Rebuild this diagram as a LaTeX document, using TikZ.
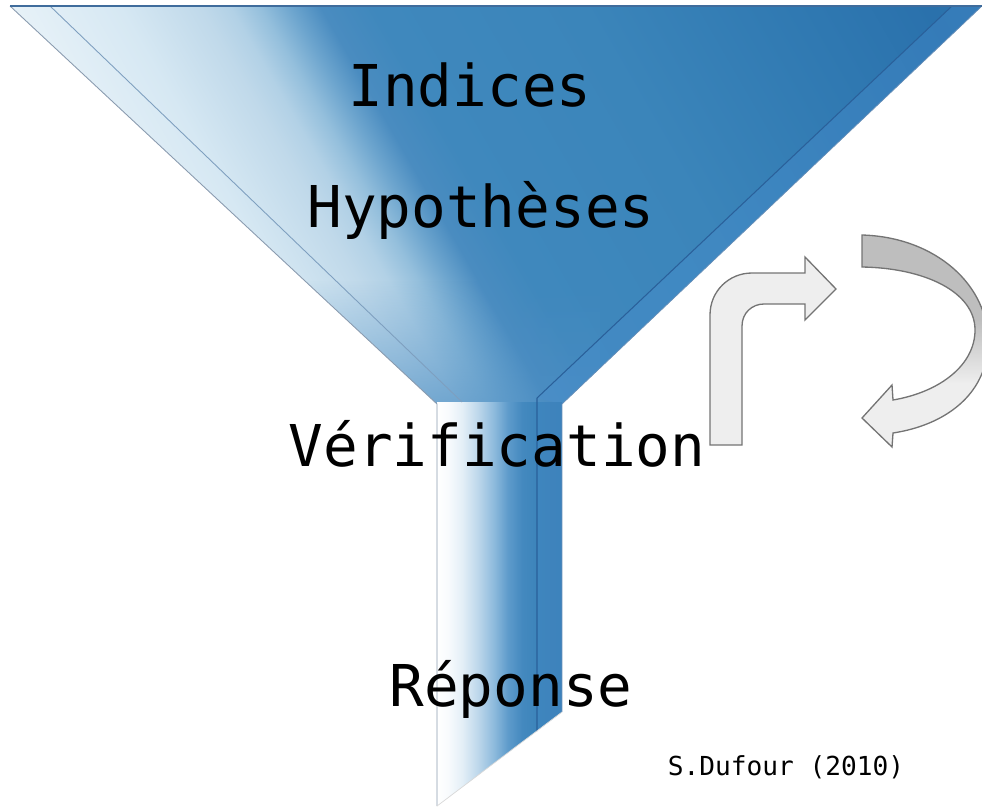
\documentclass[tikz,border=0pt]{standalone}
\usepackage{fontspec}
\setmonofont{DejaVu Sans Mono}
\usetikzlibrary{fadings}

% funnel colours
\definecolor{glowA}{HTML}{E8F2F8}
\definecolor{glowB}{HTML}{D6E8F3}
\definecolor{glowC}{HTML}{C0D9EA}
\definecolor{glowD}{HTML}{B2D1E6}
\definecolor{glowE}{HTML}{94BFDC}
\definecolor{glowF}{HTML}{6DA5CE}
\definecolor{glowG}{HTML}{4A8CC0}
\definecolor{glowH}{HTML}{3F88BD}
\definecolor{glowI}{HTML}{3B85BA}
\definecolor{glowJ}{HTML}{2F78B1}
\definecolor{glowK}{HTML}{2A71AC}
\definecolor{glowL}{HTML}{2D74AE}
\definecolor{spoutA}{HTML}{FFFFFF}
\definecolor{spoutB}{HTML}{F8FBFD}
\definecolor{spoutC}{HTML}{E4EFF7}
\definecolor{spoutD}{HTML}{BDD7EB}
\definecolor{spoutE}{HTML}{8DBADC}
\definecolor{spoutF}{HTML}{5E9BCB}
\definecolor{spoutG}{HTML}{4489BF}
\definecolor{spoutH}{HTML}{3C84BA}
\definecolor{spoutI}{HTML}{3A7FB7}
\definecolor{rimlight}{HTML}{4A8FD0}
\definecolor{rimdark}{HTML}{2A609A}
\definecolor{rimgray}{HTML}{7E9FBF}
\definecolor{edgegray}{HTML}{8A9BAF}
\definecolor{topline}{HTML}{3F6C9C}
\definecolor{deepblue}{HTML}{4A8DC3}
\definecolor{arrowline}{HTML}{747474}
\definecolor{arrowpale}{HTML}{EEEEEE}
\definecolor{arrowdark}{HTML}{BEBEBE}

\pgfdeclarehorizontalshading{funnelglow}{100bp}{%
  color(0bp)=(glowA); color(25bp)=(glowA); color(30bp)=(glowB);
  color(33.5bp)=(glowC); color(34.8bp)=(glowD); color(36.1bp)=(glowE);
  color(37.4bp)=(glowF); color(38.7bp)=(glowG); color(41bp)=(glowH);
  color(50bp)=(glowI); color(60bp)=(glowJ); color(65bp)=(glowK);
  color(67.5bp)=(glowL); color(100bp)=(glowL)}
\pgfdeclarehorizontalshading{spoutglow}{100bp}{%
  color(0bp)=(spoutA); color(25bp)=(spoutA); color(29.4bp)=(spoutB);
  color(35bp)=(spoutC); color(41.4bp)=(spoutD); color(47.8bp)=(spoutE);
  color(53.4bp)=(spoutF); color(59bp)=(spoutG); color(65bp)=(spoutH);
  color(75bp)=(spoutI); color(100bp)=(spoutI)}
\pgfdeclareverticalshading{loopfill}{100bp}{%
  color(0bp)=(arrowpale); color(40bp)=(arrowpale);
  color(55bp)=(arrowdark); color(100bp)=(arrowdark)}
\tikzfading[name=neckfade, top color=transparent!100, bottom color=transparent!35]

\begin{document}
\begin{tikzpicture}[x=0.02cm, y=-0.02cm,
  stage/.style={font=\ttfamily\fontsize{32.8}{38}\selectfont, anchor=base, inner sep=0pt},
  turn/.style={draw=arrowline, line width=0.75pt, line join=miter}]

\useasboundingbox (0,0) rectangle (982,808);

% mouth of the funnel
\begin{scope}
  \clip (10,6) -- (982,6) -- (562,404) -- (437,404) -- cycle;
  \begin{scope}[transform canvas={rotate around={30:(0,0)}}]
    \shade[shading=funnelglow] (0,-50) rectangle (1000,700);
  \end{scope}
  \fill[deepblue, path fading=neckfade] (300,280) rectangle (600,404);
  \fill[rimlight, opacity=.35] (982,6) -- (952,6) -- (537,398) -- (562,404) -- cycle;
\end{scope}

% spout
\shade[shading=spoutglow] (437,402) -- (562,402) -- (562,712) -- (437,806) -- cycle;
\fill[rimlight, opacity=.2] (537,402) -- (562,402) -- (562,712) -- (537,731) -- cycle;

% edges
\draw[rimgray, line width=0.5pt] (50,6) -- (462,402);
\draw[rimdark, line width=0.6pt] (952,6) -- (537,398) -- (537,731);
\draw[edgegray, line width=0.5pt] (10,6) -- (437,404) -- (437,806);
\draw[rimdark!70, line width=0.4pt] (982,6) -- (562,404) -- (562,712);
\draw[gray!30, line width=0.4pt] (437,806) -- (562,712);
\draw[topline, line width=1.2pt] (10,6) -- (982,6);

% arrows
\filldraw[turn, fill=arrowpale]
  (710,445) -- (710,315) .. controls (710,291) and (729,273) .. (752,273)
  -- (805,273) -- (805,257) -- (836,289) -- (805,320) -- (805,304)
  -- (764,304) .. controls (752,304) and (742,313) .. (742,326)
  -- (742,445) -- cycle;
\shadedraw[turn, shading=loopfill]
  (862,235) .. controls (935,237) and (990,285) .. (988,345)
  .. controls (986,395) and (945,425) .. (893,433)
  -- (892,447) -- (862,418) -- (892,385) -- (893,400)
  .. controls (940,392) and (975,365) .. (975,330)
  .. controls (975,292) and (925,268) .. (862,267) -- cycle;

% labels
\node[stage] (indices) at (470,106) {Indices};
\node[stage] (hypotheses) at (481,227) {Hypothèses};
\node[stage] (verification) at (497,466) {Vérification};
\node[stage] (reponse) at (511,706) {Réponse};
\node[
  font=\ttfamily\fontsize{14.9}{18}\selectfont,
  anchor=base, inner sep=0pt] (credit) at (786,775) {S.Dufour (2010)};
\end{tikzpicture}
\end{document}
